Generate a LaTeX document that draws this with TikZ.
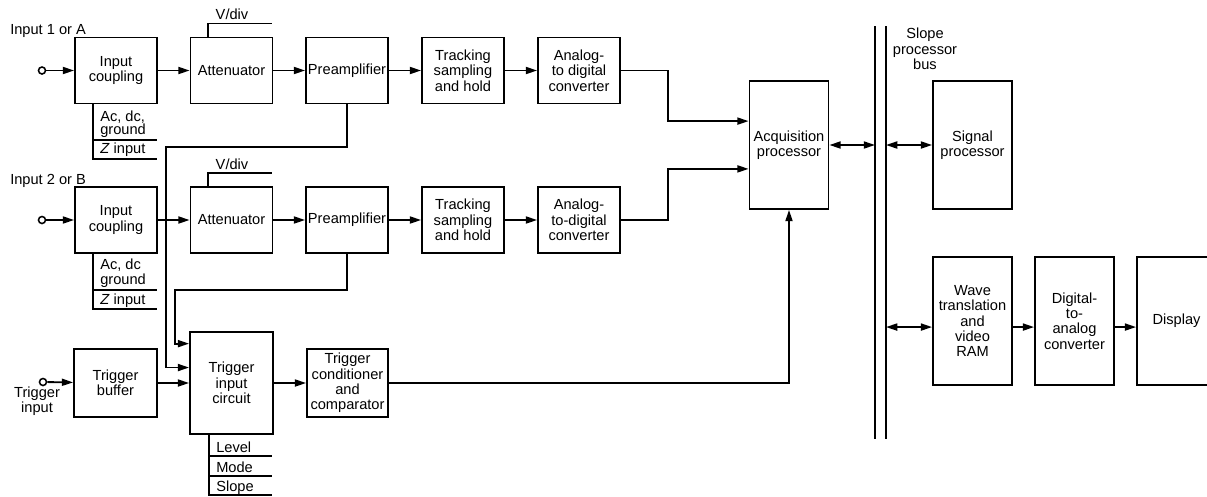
\documentclass[tikz,border=0pt]{standalone}
\usepackage{fontspec}
\setmainfont{Liberation Sans}
\usetikzlibrary{arrows.meta,calc,positioning}
\tikzstyle{blk}  =[draw, line width=1.3pt, align=center, inner sep=1pt,
                   font=\fontsize{10.4}{11}\selectfont]
\tikzstyle{sblk} =[blk, minimum width=2.05cm, minimum height=1.65cm]
\tikzstyle{tblk} =[blk, minimum width=1.975cm, minimum height=3.2cm]
\tikzstyle{wire} =[line width=1.3pt]
\tikzstyle{arr}  =[wire, -{Triangle[length=8pt,width=5pt]}]
\tikzstyle{darr} =[wire, {Triangle[length=8pt,width=5pt]}-{Triangle[length=8pt,width=5pt]}]
\tikzstyle{term} =[circle, draw, line width=1.1pt, minimum size=5pt,
                   inner sep=0pt, fill=white]
\tikzstyle{lbl}  =[inner sep=0pt, font=\fontsize{10.4}{11}\selectfont]

\begin{document}
\begin{tikzpicture}[x=0.025cm,y=-0.025cm]
    \useasboundingbox (0,0) rectangle (1207,496);
    \clip (0,0) rectangle (1207,496);

    %channel A
    \node[lbl, anchor=base west] (labA) at (10,34) {Input 1 or A};
    \node[term] (inA) at (42,70.5) {};
    \node[sblk] (cplA) at (116,70.5) {Input\\coupling};
    \node[sblk] (attA) at (231.5,70.5) {Attenuator};
    \node[sblk] (preA) at (347,70.5) {Preamplifier};
    \node[sblk] (trkA) at (463,70.5) {Tracking\\sampling\\and hold};
    \node[sblk] (adcA) at (579,70.5) {Analog-\\to digital\\converter};
    \node[lbl, anchor=base] (vdivA) at (232,19) {V/div};
    \node[lbl, anchor=base west] (acA) at (100,121) {Ac, dc,};
    \node[lbl, anchor=base west] (gndA) at (100,134) {ground};
    \node[lbl, anchor=base west] (zA) at (100,153) {\textit{Z} input};

    %channel B
    \node[lbl, anchor=base west] (labB) at (10,184) {Input 2 or B};
    \node[term] (inB) at (42,220) {};
    \node[sblk] (cplB) at (116,220) {Input\\coupling};
    \node[sblk] (attB) at (231.5,220) {Attenuator};
    \node[sblk] (preB) at (347,220) {Preamplifier};
    \node[sblk] (trkB) at (463,220) {Tracking\\sampling\\and hold};
    \node[sblk] (adcB) at (579,220) {Analog-\\to-digital\\converter};
    \node[lbl, anchor=base] (vdivB) at (232,169) {V/div};
    \node[lbl, anchor=base west] (acB) at (100,269) {Ac, dc};
    \node[lbl, anchor=base west] (gndB) at (100,284) {ground};
    \node[lbl, anchor=base west] (zB) at (100,304) {\textit{Z} input};

    %trigger
    \node[term] (inT) at (43,382) {};
    \node[lbl, align=center] (labT) at (37,401) {Trigger\\input};
    \node[blk, minimum width=2.075cm, minimum height=1.7cm] (tbuf) at (115.5,383) {Trigger\\buffer};
    \node[blk, minimum width=2.075cm, minimum height=2.55cm] (tin) at (231.5,383) {Trigger\\input\\circuit};
    \node[blk, minimum width=2.025cm, minimum height=1.7cm] (tcond) at (347.5,383) {Trigger\\conditioner\\and\\comparator};
    \node[lbl, anchor=base west] (lev) at (216,452) {Level};
    \node[lbl, anchor=base west] (mode) at (216,472) {Mode};
    \node[lbl, anchor=base west] (slope) at (216,491) {Slope};

    %processors and bus
    \node[tblk] (acq) at (789,145) {Acquisition\\processor};
    \node[tblk] (sig) at (972.5,145) {Signal\\processor};
    \node[tblk] (wave) at (972.5,321) {Wave\\translation\\and\\video\\RAM};
    \node[tblk] (dac) at (1074.5,321) {Digital-\\to-\\analog\\converter};
    \node[tblk] (disp) at (1176.5,321) {Display};
    \node[lbl, align=center] (busl) at (925,49) {Slope\\processor\\bus};
    \coordinate (busA) at (875,26);
    \coordinate (busB) at (886,26);
    \draw[wire] (busA) -- ++(0,413);
    \draw[wire] (busB) -- ++(0,413);

    %signal paths
    \foreach \i/\j in {inA/cplA,cplA/attA,attA/preA,preA/trkA,trkA/adcA,
    inB/cplB,cplB/attB,attB/preB,preB/trkB,trkB/adcB,
    inT/tbuf,tbuf/tin,tin/tcond}
        \draw[arr] (\i) -- (\j);
    \draw[arr] ([yshift=-4.3pt]wave.east) -- ([yshift=-4.3pt]dac.west);
    \draw[arr] ([yshift=-4.3pt]dac.east) -- ([yshift=-4.3pt]disp.west);
    \draw[arr] (adcA.east) -- ++(47,0) |- ([yshift=17pt]acq.west);
    \draw[arr] (adcB.east) -- ++(47,0) |- ([yshift=-17pt]acq.west);
    \draw[arr] (tcond.east) -| (acq.south);
    \draw[arr] (preA.south) |- (166,147) |- ([yshift=11pt]tin.west);
    \draw[arr] (preB.south) |- (175,290) |- ([yshift=28pt]tin.west);
    \draw[darr] (acq.east) -- (acq.east -| busA);
    \draw[darr] (sig.west -| busB) -- (sig.west);
    \draw[darr] ([yshift=-4.3pt]wave.west -| busB) -- ([yshift=-4.3pt]wave.west);

    %settings
    \foreach \n in {attA,attB}
        \draw[wire] ([xshift=-16.7pt]\n.north) -- ++(0,-13) -- ++(64,0);
    \draw[wire] ([xshift=-16.4pt]cplA.south) |- (157,159);
    \draw[wire] (93,140) -- (157,140);
    \draw[wire] ([xshift=-16.4pt]cplB.south) |- (157,309);
    \draw[wire] (93,290) -- (157,290);
    \draw[wire] ([xshift=-16pt]tin.south) |- (272,495);
    \foreach \y in {456,476}
        \draw[wire] (209,\y) -- (272,\y);

\end{tikzpicture}
\end{document}
